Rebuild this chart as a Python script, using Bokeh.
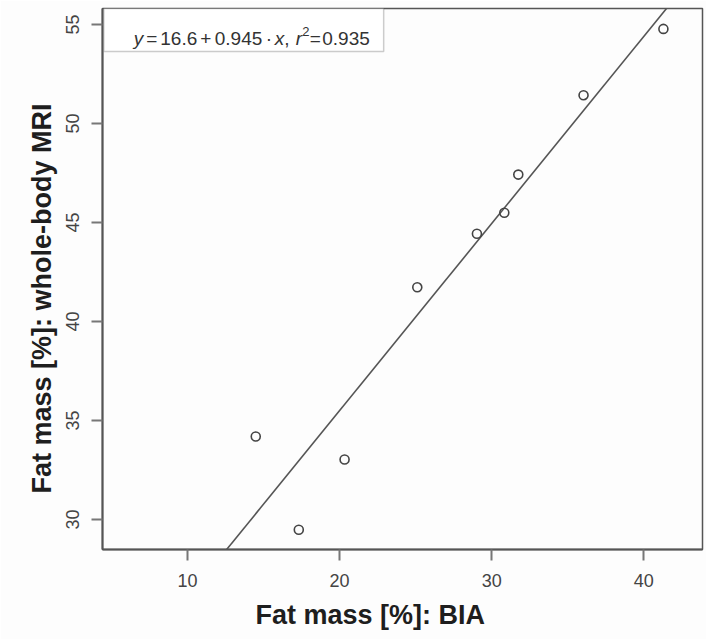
from bokeh.plotting import figure
from bokeh.models import Range1d, FixedTicker, Label, BoxAnnotation, Title
from bokeh.embed import file_html
from bokeh.resources import INLINE

# ---- data ----
bia = [14.49, 17.32, 20.33, 25.11, 29.03, 30.83, 31.75, 36.04, 41.29]
mri = [34.19, 29.48, 33.03, 41.73, 44.43, 45.49, 47.42, 51.43, 54.78]
x_ticks = [10, 20, 30, 40]
y_ticks = [30, 35, 40, 45, 50, 55]
intercept = 16.6
slope = 0.945
r_squared = 0.935
x_title = "Fat mass [%]: BIA"
y_title = "Fat mass [%]: whole-body MRI"

X0, X1 = 4.415, 43.86
Y0, Y1 = 28.485, 55.81

FONT = "Liberation Sans"
DARK = "#555555"

p = figure(frame_width=600, frame_height=541,
           x_range=Range1d(X0, X1), y_range=Range1d(Y0, Y1),
           output_backend="svg", toolbar_location=None,
           min_border_left=102, min_border_right=4,
           min_border_top=8, min_border_bottom=90,
           background_fill_color="#fdfdfd", border_fill_color="#fdfdfd")

p.xgrid.visible = False
p.ygrid.visible = False
p.outline_line_color = DARK
p.outline_line_width = 1.5

for ax, ticks in ((p.xaxis[0], x_ticks), (p.yaxis[0], y_ticks)):
    ax.ticker = FixedTicker(ticks=ticks)
    ax.minor_tick_line_color = None
    ax.major_tick_in = 0
    ax.major_tick_out = 11
    ax.major_tick_line_color = "#777777"
    ax.major_tick_line_width = 2
    ax.axis_line_color = DARK
    ax.axis_line_width = 2
    ax.major_label_text_font = FONT
    ax.major_label_text_font_size = "18px"
    ax.major_label_text_color = "#444444"
p.xaxis[0].major_label_standoff = 13
p.yaxis[0].major_label_standoff = 12
p.yaxis[0].major_label_orientation = "vertical"

# regression line from the fitted coefficients
lx = [X0, X1]
ly = [intercept + slope * v for v in lx]
p.line(lx, ly, line_color=DARK, line_width=1.6)

# points
p.scatter(bia, mri, marker="circle", size=9, fill_color=None,
          line_color="#444444", line_width=1.6)

# legend box with equation
p.add_layout(BoxAnnotation(left=4.5, right=22.9, bottom=53.64, top=Y1,
                           fill_color="white", fill_alpha=1.0,
                           line_color=DARK, line_width=1.5))

eq_x, eq_y = 6.47, 54.29
pieces = [
    ("y", "italic", "19px", 0, 0),
    ("=", "normal", "19px", 12.5, 0),
    ("%.1f" % intercept, "normal", "19px", 26.5, 0),
    ("+", "normal", "19px", 66.5, 0),
    ("%.3f" % slope, "normal", "19px", 81, 0),
    ("\u00b7", "normal", "19px", 132, 0),
    ("x", "italic", "19px", 141, 0),
    (",", "normal", "19px", 150.5, 0),
    ("r", "italic", "19px", 162, 0),
    ("2", "normal", "13px", 168.5, 7),
    ("=", "normal", "19px", 176, 0),
    ("%.3f" % r_squared, "normal", "19px", 188.5, 0),
]
for txt, style, size, dx, dy in pieces:
    p.add_layout(Label(x=eq_x, y=eq_y, text=txt, x_offset=dx, y_offset=dy,
                       text_font=FONT, text_font_style=style,
                       text_font_size=size, text_color="#333333",
                       text_baseline="alphabetic", text_align="left"))

# axis titles
p.add_layout(Title(text=x_title, align="left", offset=153, standoff=16,
                   text_font=FONT, text_font_style="bold",
                   text_font_size="27px", text_color="#1e1e1e"), "below")
p.add_layout(Title(text=y_title, align="left", offset=56, standoff=14,
                   text_font=FONT, text_font_style="bold",
                   text_font_size="27px", text_color="#1e1e1e"), "left")

open("out.html", "w").write(file_html(p, INLINE))
